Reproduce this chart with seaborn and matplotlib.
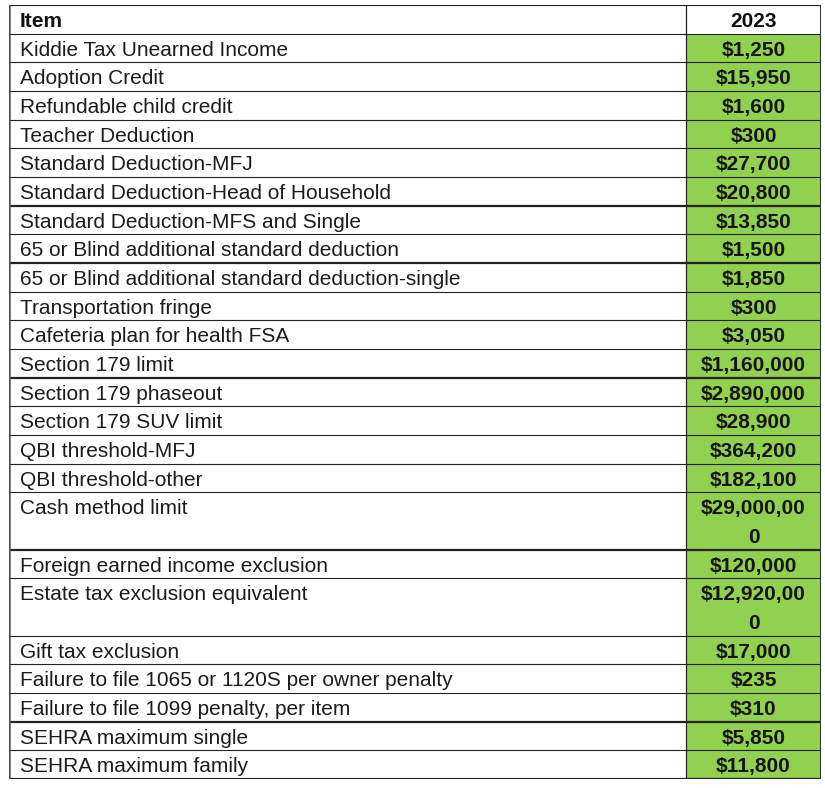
import numpy as np
import pandas as pd
import seaborn as sns
import matplotlib.pyplot as plt

# table contents
header = ["Item", "2023"]
items = ["Kiddie Tax Unearned Income", "Adoption Credit", "Refundable child credit",
         "Teacher Deduction", "Standard Deduction-MFJ", "Standard Deduction-Head of Household",
         "Standard Deduction-MFS and Single", "65 or Blind additional standard deduction",
         "65 or Blind additional standard deduction-single", "Transportation fringe",
         "Cafeteria plan for health FSA", "Section 179 limit", "Section 179 phaseout",
         "Section 179 SUV limit", "QBI threshold-MFJ", "QBI threshold-other",
         "Cash method limit", "Foreign earned income exclusion", "Estate tax exclusion equivalent",
         "Gift tax exclusion", "Failure to file 1065 or 1120S per owner penalty",
         "Failure to file 1099 penalty, per item", "SEHRA maximum single", "SEHRA maximum family"]
values = ["$1,250", "$15,950", "$1,600", "$300", "$27,700", "$20,800", "$13,850", "$1,500",
          "$1,850", "$300", "$3,050", "$1,160,000", "$2,890,000", "$28,900", "$364,200",
          "$182,100", "$29,000,00\n0", "$120,000", "$12,920,00\n0", "$17,000", "$235",
          "$310", "$5,850", "$11,800"]

df = pd.DataFrame({"Item": items, "Value": values})
df["h"] = df["Value"].str.count("\n") + 1
df["top"] = 1 + df["h"].cumsum() - df["h"]
total = 1 + df["h"].sum()

# rows whose top rule is drawn heavier in the original
heavy = {"Standard Deduction-MFS and Single", "65 or Blind additional standard deduction-single",
         "Section 179 phaseout", "Foreign earned income exclusion", "SEHRA maximum single"}

sns.set_theme(style="white")
plt.rcParams['font.family'] = ['Liberation Sans', 'DejaVu Sans']

W, H = 825, 788
fig = plt.figure(figsize=(W / 100, H / 100), dpi=100)
fig.patch.set_facecolor("white")
x0, x1, y0, y1 = 9, 821, 5, 779
ax = fig.add_axes([x0 / W, 1 - y1 / H, (x1 - x0) / W, (y1 - y0) / H])
ax.set_xlim(0, 1)
ax.set_ylim(total, 0)
ax.axis("off")

div = (686 - x0) / (x1 - x0)
green = "#92D050"
fs = 15

# green value cells
ax.barh(df["top"], 1 - div, left=div, height=df["h"], align="edge", color=green, linewidth=0)

# header
ax.text(0.0135, 0.77, header[0], fontsize=fs, fontweight="bold", color="#111111", va="baseline")
ax.text((div + 1) / 2, 0.77, header[1], fontsize=fs, fontweight="bold", color="#111111",
        va="baseline", ha="center")

for _, r in df.iterrows():
    ax.text(0.0135, r["top"] + 0.77, r["Item"], fontsize=fs, color="#1c1c1c", va="baseline")
    for k, part in enumerate(r["Value"].split("\n")):
        ax.text((div + 1) / 2, r["top"] + k + 0.77, part, fontsize=fs, fontweight="bold",
                color="#151515", va="baseline", ha="center")
    lw = 1.6 if r["Item"] in heavy else 0.8
    ax.plot([0, 1], [r["top"], r["top"]], color="#222222", lw=lw, solid_capstyle="butt")

# grid frame
ax.plot([0, 1], [0, 0], color="#222222", lw=1.6)
ax.plot([0, 1], [total, total], color="#222222", lw=1.6)
ax.plot([0, 0], [0, total], color="#555555", lw=1.8)
ax.plot([1, 1], [0, total], color="#333333", lw=1.4)
ax.plot([div, div], [0, total], color="#222222", lw=0.9)

fig.savefig("out.png", dpi=100, facecolor="white")
